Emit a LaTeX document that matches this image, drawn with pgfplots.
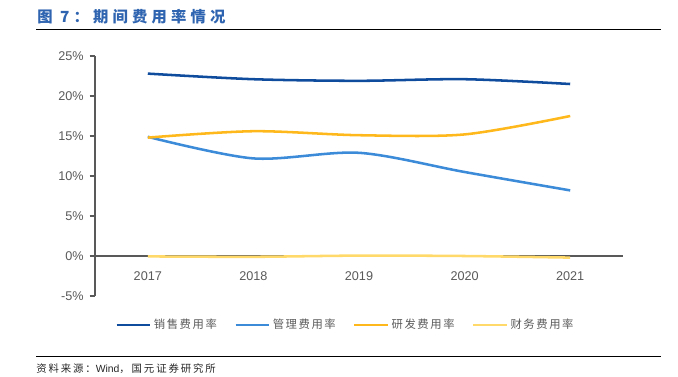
\documentclass[border=0pt]{standalone}
\usepackage{fontspec}
\setmainfont{Liberation Sans}
\newfontfamily\cjk{Noto Sans CJK SC}
\usepackage{pgfplots}
\pgfplotsset{compat=1.18}
\definecolor{c1}{HTML}{0F4C9E}
\definecolor{c2}{HTML}{3C8BD9}
\definecolor{c3}{HTML}{FFB81C}
\definecolor{c4}{HTML}{FFDA6A}
\definecolor{tc}{HTML}{595959}
\definecolor{titc}{HTML}{2E64B0}
\begin{document}
\begin{tikzpicture}[x=0.75pt,y=-0.75pt]
\path[use as bounding box] (0,0) rectangle (678,376);
\node[anchor=west,inner sep=0pt,text=titc] at (37,17) {\cjk\bfseries\fontsize{11.5pt}{13pt}\selectfont\addfontfeature{LetterSpace=27}图 7：期间费用率情况};
\draw[black,line width=0.75pt] (36,29.5) -- (661,29.5);
\draw[black,line width=0.75pt] (36,356) -- (661,356);
\node[anchor=west,inner sep=0pt,text=black!85] at (36,369) {\cjk\fontsize{7.8pt}{9pt}\selectfont\addfontfeature{LetterSpace=18}资料来源：{\rmfamily Wind}，国元证券研究所};
\path (95,296) coordinate (A);
\begin{axis}[
  at={(A)}, anchor=south west,
  scale only axis, width=396pt, height=180pt,
  xmin=-0.5, xmax=4.5, ymin=-5, ymax=25,
  axis y line*=left, axis x line*=middle,
  axis line style={tc,line width=1.1pt},
  every axis plot/.append style={line width=1.9pt},
  xtick={0,1,2,3,4},
  xticklabels={2017,2018,2019,2020,2021},
  x tick style={draw=none},
  extra x ticks={0.5,1.5,2.5,3.5,4.5},
  extra x tick labels={},
  extra x tick style={tick style={draw=black,line width=0.6pt}, major tick length=4pt, tick align=inside},
  ytick={-5,0,5,10,15,20,25},
  yticklabel={\pgfmathprintnumber{\tick}\%},
  y tick style={tc,line width=1pt}, major tick length=4pt, tick align=outside,
  /pgf/number format/assume math mode=true,
  tick label style={text=tc,font=\fontsize{9.5pt}{11pt}\selectfont},
  xticklabel style={yshift=-4pt},
  yticklabel style={xshift=-1pt},
  legend columns=4,
  legend style={at={(0.475,-0.12)},anchor=center,draw=none,fill=none,
    font=\cjk\fontsize{8.5pt}{10pt}\selectfont\addfontfeature{LetterSpace=14},text=tc,
    /tikz/every even column/.append style={column sep=11pt}},
  legend image code/.code={\draw[#1,line width=1.9pt] (0pt,0pt) -- (25pt,0pt);},
  clip=false,
]
\addplot[c1,smooth,tension=0.5] coordinates {(0,22.8) (1,22.1) (2,21.9) (3,22.1) (4,21.5)};
\addlegendentry{销售费用率}
\addplot[c2,smooth,tension=0.5] coordinates {(0,14.9) (1,12.2) (2,12.9) (3,10.5) (4,8.2)};
\addlegendentry{管理费用率}
\addplot[c3,smooth,tension=0.5] coordinates {(0,14.8) (1,15.6) (2,15.1) (3,15.2) (4,17.5)};
\addlegendentry{研发费用率}
\addplot[c4,smooth,tension=0.5] coordinates {(0,-0.05) (1,-0.1) (2,0.05) (3,0.0) (4,-0.2)};
\addlegendentry{财务费用率}
\end{axis}
\end{tikzpicture}
\end{document}
